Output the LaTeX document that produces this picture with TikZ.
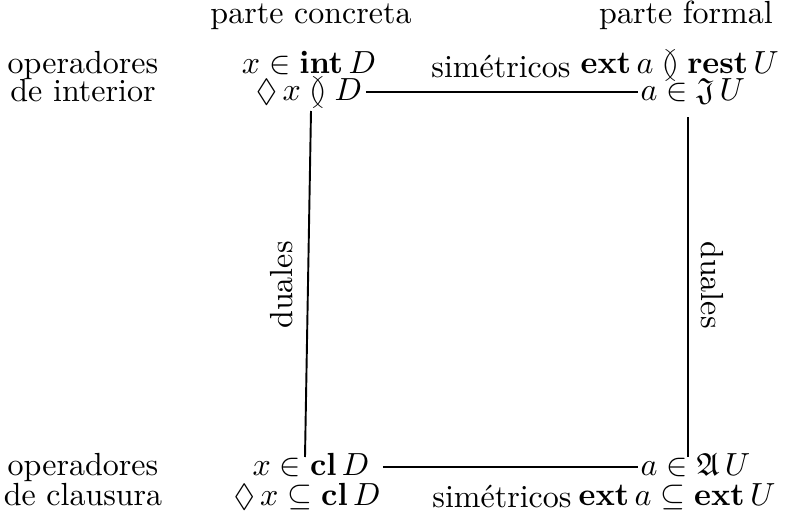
\documentclass[tikz,border=0pt]{standalone}
\usepackage{amssymb}
\begin{document}
\begin{tikzpicture}[x=0.3125pt,y=-0.3125pt,
  lbl/.style={inner sep=0pt,anchor=base},
  lblw/.style={inner sep=0pt,anchor=base west},
  conn/.style={line width=0.6pt}]
\useasboundingbox (0,0) rectangle (786,518);
% headers
\node[lbl] (hc) at (311,24) {parte concreta};
\node[lbl] (hf) at (686,24) {parte formal};
\node[lbl] (oi1) at (83,73) {operadores};
\node[lbl] (oi2) at (83,102) {de interior};
\node[lbl] (oc1) at (83,475) {operadores};
\node[lbl] (oc2) at (83,505) {de clausura};
% corners
\node[lbl] (tl1) at (309,73) {$x\in\mathbf{int}\,D$};
\node[lbl] (tl2) at (309,100) {$\mathop{\Diamond}x\between D$};
\node[lblw] (tr1) at (580,73) {$\mathbf{ext}\,a\between\mathbf{rest}\,U$};
\node[lblw] (tr2) at (640,100) {$a\in\mathfrak{J}\,U$};
\node[lbl] (bl1) at (311,475) {$x\in\mathbf{cl}\,D$};
\node[lbl] (bl2) at (307,505) {$\mathop{\Diamond}x\subseteq\mathbf{cl}\,D$};
\node[lblw] (br1) at (640,475) {$a\in\mathfrak{A}\,U$};
\node[lblw] (br2) at (578,505) {$\mathbf{ext}\,a\subseteq\mathbf{ext}\,U$};
% edge labels
\node[lbl] (s1) at (501,77) {sim\'etricos};
\node[lbl] (s2) at (502,507) {sim\'etricos};
\node[rotate=90,inner sep=0pt] (d1) at (282,285) {duales};
\node[rotate=-90,inner sep=0pt] (d2) at (712,285) {duales};
% connectors
\coordinate (lt) at (311,111);
\coordinate (lb) at (305,457);
\coordinate (rt) at (688,117);
\coordinate (rb) at (688,457);
\draw[conn] ([xshift=1pt,yshift=0.35pt]tl2.mid east) -- ([xshift=-0.5pt,yshift=0.35pt]tr2.mid west);
\draw[conn] ([xshift=4pt,yshift=0.35pt]bl1.mid east) -- ([xshift=-0.5pt,yshift=0.35pt]br1.mid west);
\draw[conn] (lt) -- (lb);
\draw[conn] (rt) -- (rb);
\end{tikzpicture}
\end{document}
